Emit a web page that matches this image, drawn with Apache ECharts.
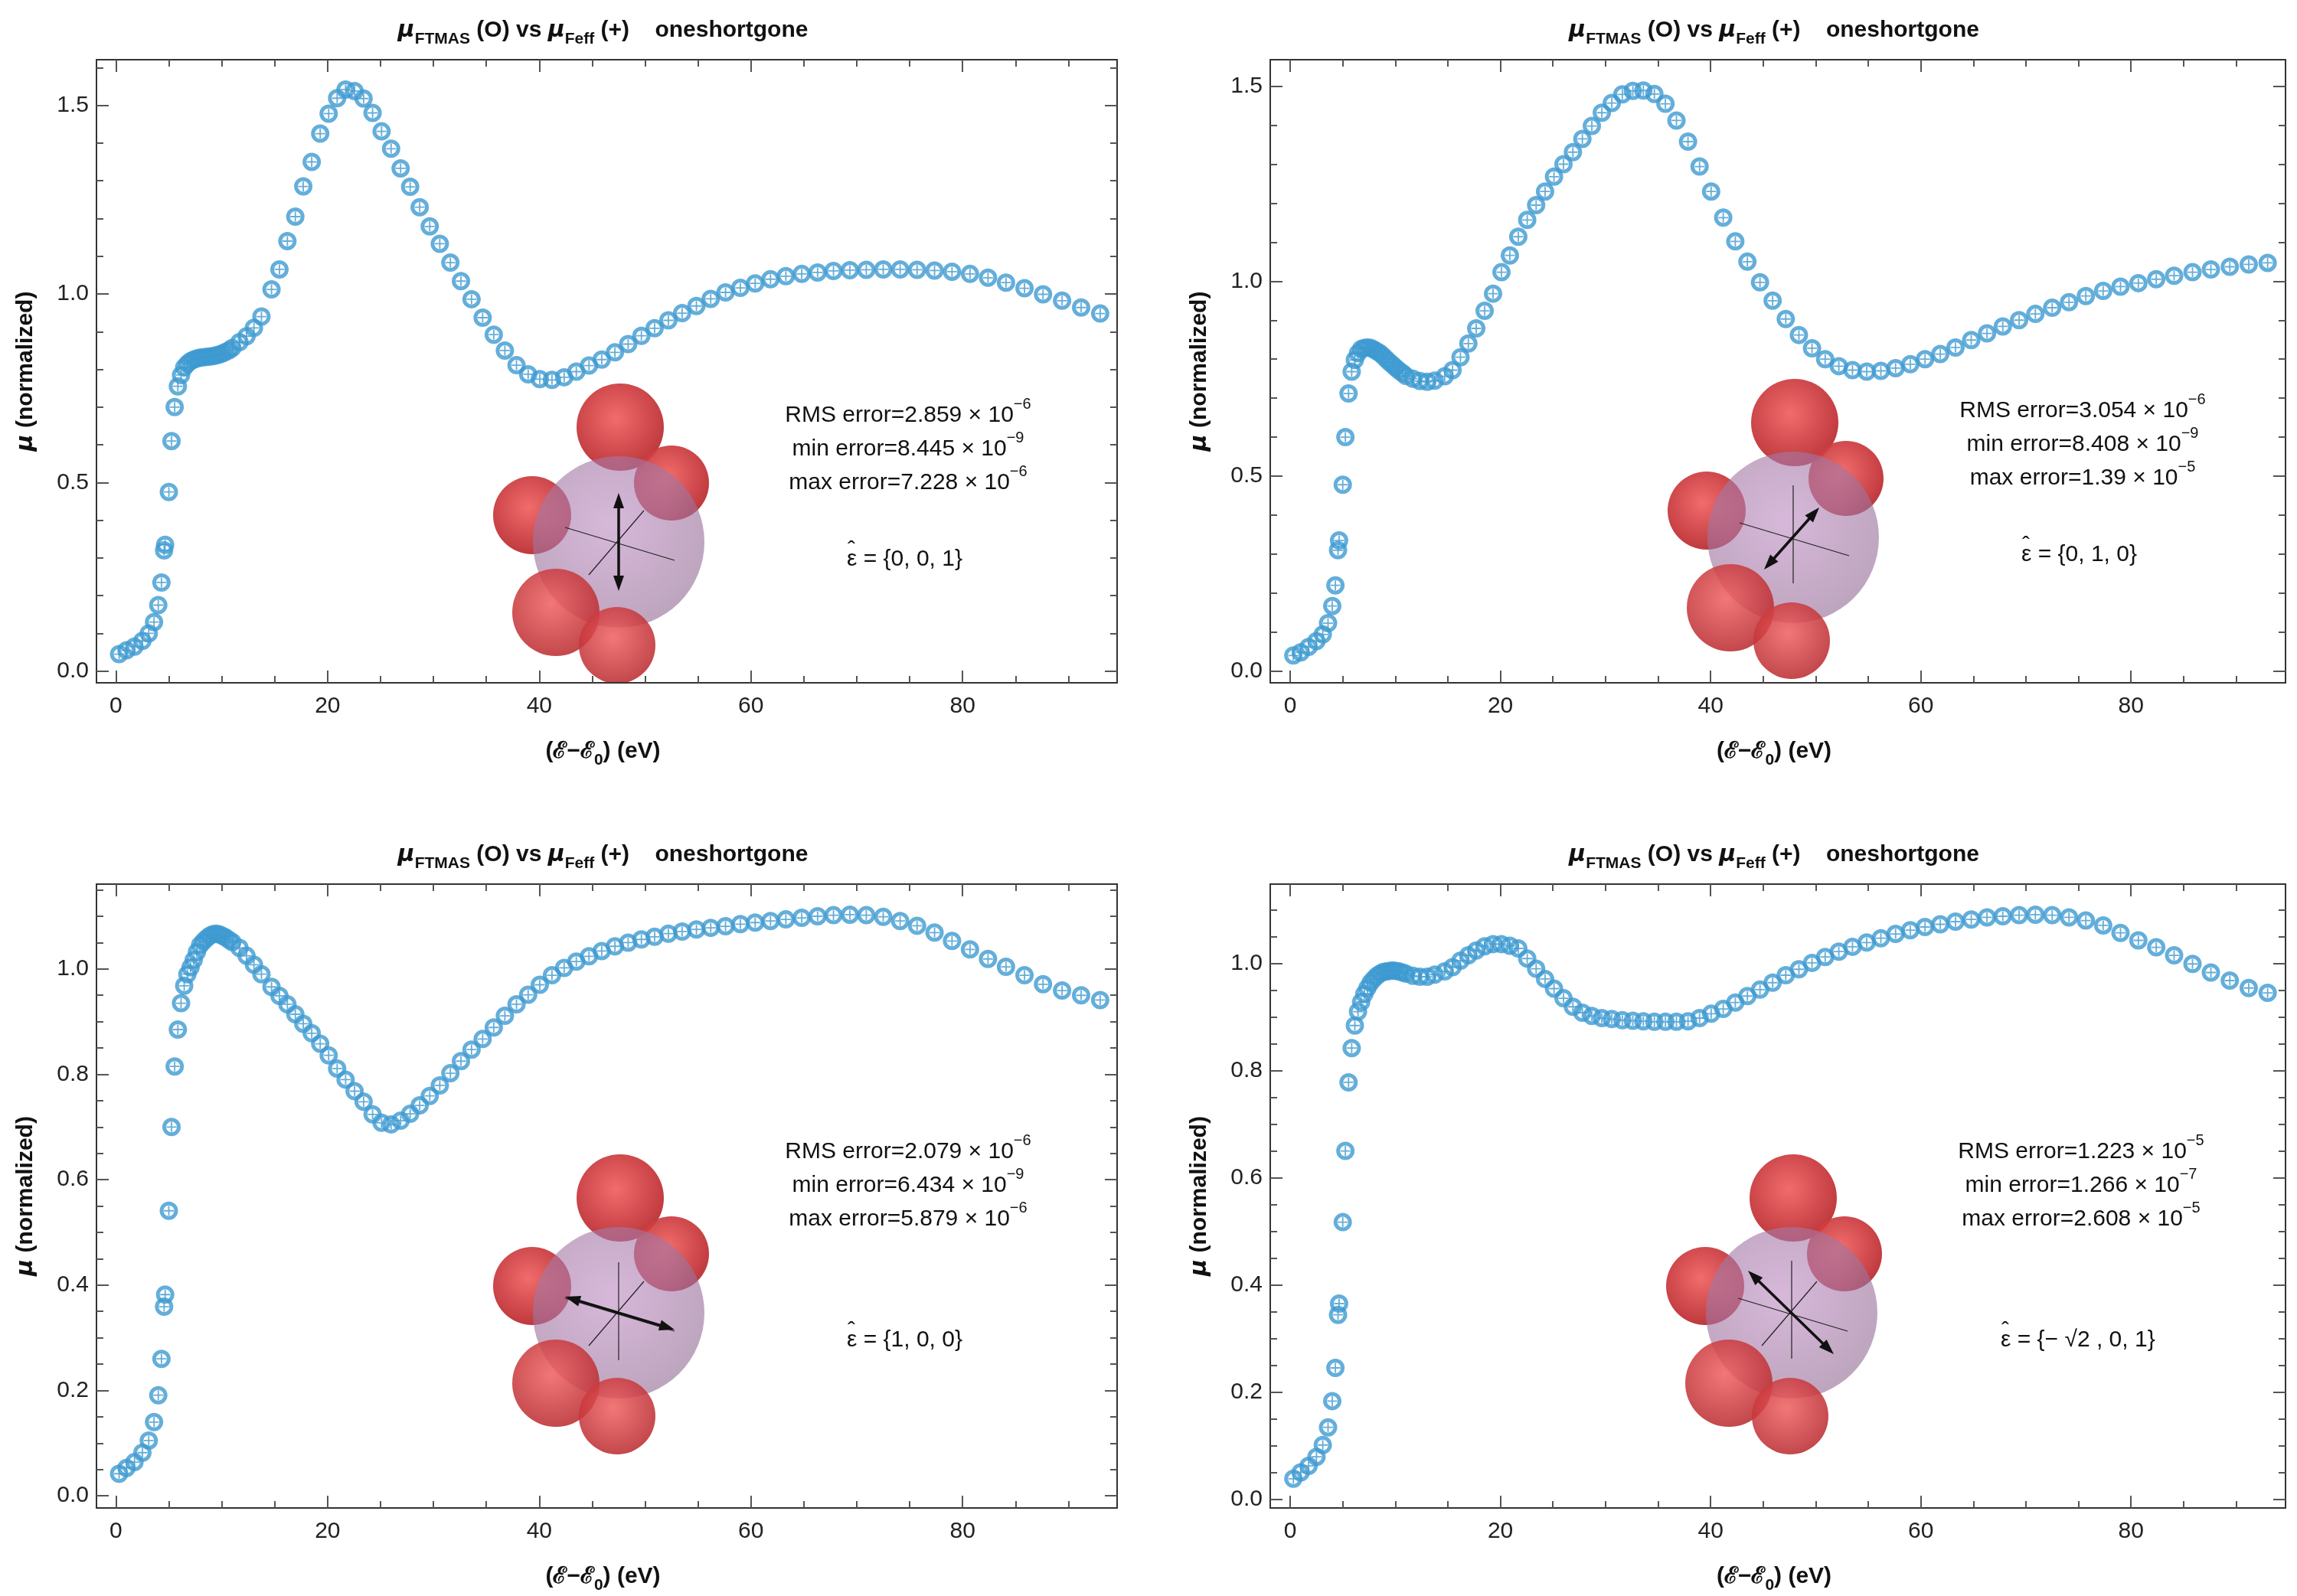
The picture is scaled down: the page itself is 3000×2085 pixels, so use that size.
<!DOCTYPE html>
<html>
<head>
<meta charset="utf-8">
<script src="https://cdn.jsdelivr.net/npm/echarts@6/dist/echarts.min.js"></script>
<style>
  html, body { margin: 0; padding: 0; background: #fff; }
  #chart { width: 3000px; height: 2085px; }
</style>
</head>
<body>
<div id="chart"></div>
<script>
// shared energy grid (eV above edge)
var energy = [0.3, 1.0, 1.75, 2.5, 3.1, 3.6, 4.0, 4.3, 4.55, 4.65, 5.0, 5.25, 5.55, 5.85, 6.15, 6.45, 6.75, 7.05, 7.35, 7.65,
  7.95, 8.25, 8.55, 8.85, 9.15, 9.45, 9.75, 10.05, 10.35, 10.7, 11.0, 11.67, 12.34, 13.04, 13.75,
  14.7, 15.45, 16.2, 16.95, 17.7, 18.5, 19.3, 20.1, 20.9, 21.7, 22.55, 23.4, 24.25, 25.1, 26.0, 26.9, 27.8, 28.7, 29.65, 30.6,
  31.6, 32.6, 33.6, 34.65, 35.7, 36.75, 37.85, 38.95, 40.05, 41.2, 42.35, 43.5, 44.7, 45.9, 47.15, 48.4, 49.65, 50.9, 52.2, 53.5,
  54.85, 56.2, 57.6, 59.0, 60.4, 61.85, 63.3, 64.8, 66.3, 67.8, 69.35, 70.9, 72.5, 74.1, 75.7, 77.35, 79.0, 80.7, 82.4, 84.1,
  85.85, 87.6, 89.4, 91.2, 93.0]

// eps = {0,0,1}
var muZ = [0.045, 0.055, 0.065, 0.08, 0.10, 0.13, 0.175, 0.235, 0.32, 0.335, 0.475, 0.61, 0.70, 0.755, 0.785, 0.805, 0.815, 0.822, 0.826, 0.829,
  0.831, 0.832, 0.833, 0.834, 0.835, 0.837, 0.839, 0.842, 0.846, 0.851, 0.857, 0.872, 0.888, 0.91, 0.94,
  1.012, 1.065, 1.14, 1.205, 1.285, 1.35, 1.425, 1.478, 1.519, 1.542, 1.538, 1.518, 1.48, 1.431, 1.385, 1.333, 1.284, 1.23, 1.179, 1.133,
  1.083, 1.034, 0.986, 0.937, 0.892, 0.85, 0.811, 0.787, 0.774, 0.772, 0.779, 0.794, 0.81, 0.826, 0.845, 0.867, 0.889, 0.909, 0.93, 0.949,
  0.968, 0.987, 1.004, 1.016, 1.028, 1.039, 1.047, 1.053, 1.057, 1.061, 1.063, 1.064, 1.065, 1.065, 1.064, 1.062, 1.059, 1.053, 1.043, 1.03,
  1.015, 0.999, 0.982, 0.964, 0.948]

// eps = {0,1,0}
var muY = [0.04, 0.048, 0.062, 0.077, 0.094, 0.123, 0.167, 0.22, 0.31, 0.335, 0.478, 0.6, 0.712, 0.768, 0.798, 0.815, 0.826, 0.829, 0.83, 0.829,
  0.825, 0.82, 0.815, 0.808, 0.80, 0.792, 0.785, 0.778, 0.771, 0.764, 0.757, 0.75, 0.744, 0.742, 0.745,
  0.756, 0.772, 0.805, 0.84, 0.879, 0.924, 0.968, 1.023, 1.066, 1.114, 1.157, 1.195, 1.23, 1.268, 1.3, 1.331, 1.365, 1.398, 1.432, 1.457,
  1.479, 1.488, 1.489, 1.48, 1.455, 1.412, 1.358, 1.294, 1.23, 1.163, 1.102, 1.05, 0.997, 0.95, 0.903, 0.862, 0.828, 0.80, 0.782, 0.772,
  0.768, 0.77, 0.777, 0.787, 0.80, 0.813, 0.83, 0.849, 0.866, 0.884, 0.9, 0.916, 0.932, 0.946, 0.962, 0.975, 0.986, 0.995, 1.005, 1.014,
  1.023, 1.03, 1.037, 1.043, 1.047]

// eps = {1,0,0}
var muX = [0.042, 0.053, 0.064, 0.082, 0.105, 0.14, 0.191, 0.26, 0.359, 0.382, 0.541, 0.70, 0.815, 0.885, 0.935, 0.968, 0.99, 1.003, 1.017, 1.032,
  1.045, 1.052, 1.058, 1.063, 1.066, 1.067, 1.066, 1.063, 1.06, 1.055, 1.051, 1.04, 1.025, 1.008, 0.99,
  0.966, 0.949, 0.933, 0.914, 0.896, 0.878, 0.858, 0.836, 0.811, 0.79, 0.768, 0.748, 0.724, 0.708, 0.705, 0.712, 0.725, 0.741, 0.759, 0.779,
  0.802, 0.825, 0.847, 0.867, 0.889, 0.911, 0.933, 0.951, 0.97, 0.988, 1.002, 1.014, 1.024, 1.034, 1.043, 1.05, 1.056, 1.061, 1.067, 1.071,
  1.075, 1.078, 1.081, 1.085, 1.088, 1.091, 1.094, 1.097, 1.1, 1.102, 1.103, 1.102, 1.099, 1.091, 1.082, 1.069, 1.053, 1.037, 1.019, 1.004,
  0.988, 0.971, 0.959, 0.95, 0.941]

// eps = {-sqrt2,0,1}
var muXZ = [0.038, 0.05, 0.062, 0.079, 0.101, 0.134, 0.183, 0.245, 0.344, 0.365, 0.517, 0.65, 0.778, 0.842, 0.884, 0.91, 0.928, 0.943, 0.954, 0.964,
  0.971, 0.977, 0.981, 0.984, 0.985, 0.986, 0.987, 0.986, 0.985, 0.983, 0.981, 0.977, 0.975, 0.975, 0.979,
  0.985, 0.993, 1.005, 1.015, 1.024, 1.032, 1.036, 1.036, 1.033, 1.028, 1.009, 0.99, 0.971, 0.953, 0.935, 0.919, 0.908, 0.902, 0.898, 0.896,
  0.894, 0.893, 0.892, 0.891, 0.891, 0.891, 0.892, 0.898, 0.906, 0.915, 0.927, 0.939, 0.951, 0.964, 0.978, 0.989, 1.001, 1.012, 1.022, 1.031,
  1.039, 1.047, 1.055, 1.062, 1.068, 1.073, 1.078, 1.082, 1.086, 1.088, 1.09, 1.091, 1.09, 1.086, 1.08, 1.071, 1.057, 1.043, 1.03, 1.015,
  0.999, 0.983, 0.968, 0.954, 0.945]

var xMajor = [0, 20, 40, 60, 80]
var yMajorTop = [0, 0.5, 1.0, 1.5]
var yMajorBottom = [0, 0.2, 0.4, 0.6, 0.8, 1.0]

var errTexts = [
  ['2.859', '−6', '8.445', '−9', '7.228', '−6'],
  ['3.054', '−6', '8.408', '−9', '1.39', '−5'],
  ['2.079', '−6', '6.434', '−9', '5.879', '−6'],
  ['1.223', '−5', '1.266', '−7', '2.608', '−5']
]
var epsTexts = ['{0, 0, 1}', '{0, 1, 0}', '{1, 0, 0}', '{− √2 , 0, 1}']

var BLUE = '#3d9ad1'
var NUM_FONT = '"Liberation Sans Narrow", "Liberation Sans", sans-serif'

var panels = [
  { data: muZ, grid: { left: 126, top: 78, width: 1333, height: 814 }, x: [-1.84, 94.6], y: [-0.031, 1.621], major: yMajorTop, minorStep: 0.1, off: [0, 0], arrow: [[808, 644], [808, 772]] },
  { data: muY, grid: { left: 1659, top: 78, width: 1326, height: 814 }, x: [-1.9, 94.7], y: [-0.03, 1.568], major: yMajorTop, minorStep: 0.1, off: [1534, -6], arrow: [[2304, 744], [2376, 663]] },
  { data: muX, grid: { left: 126, top: 1155, width: 1333, height: 815 }, x: [-1.84, 94.6], y: [-0.023, 1.161], major: yMajorBottom, minorStep: 0.05, off: [0, 1007], arrow: [[738, 1694], [881, 1737]] },
  { data: muXZ, grid: { left: 1659, top: 1155, width: 1326, height: 815 }, x: [-1.9, 94.7], y: [-0.0165, 1.148], major: yMajorBottom, minorStep: 0.05, off: [1532, 1007], arrow: [[2395, 1769], [2283, 1660]] }
]

function minorList (lo, hi, step, majors) {
  var out = []
  for (var i = 1; i * step < hi; i++) {
    var v = Math.round(i * step * 1000) / 1000
    if (v > lo && majors.indexOf(v) < 0) out.push(v)
  }
  return out
}

var grids = [], xAxes = [], yAxes = [], series = [], graphics = []

panels.forEach(function (p, i) {
  grids.push(p.grid)
  var xMinor = minorList(p.x[0], p.x[1], 5, xMajor)
  var yMinor = minorList(p.y[0], p.y[1], p.minorStep, p.major)
  var base = { gridIndex: i, type: 'value', splitLine: { show: false } }
  ;['bottom', 'top'].forEach(function (pos) {
    ;[true, false].forEach(function (isMajor) {
      xAxes.push(Object.assign({}, base, {
        position: pos, min: p.x[0], max: p.x[1],
        axisLine: { show: isMajor, onZero: false, lineStyle: { color: '#333', width: 2 } },
        axisTick: { show: true, inside: true, length: isMajor ? 16 : 9, customValues: isMajor ? xMajor : xMinor, lineStyle: { color: '#555', width: 2 } },
        axisLabel: { show: isMajor && pos === 'bottom', customValues: xMajor, fontSize: 30, color: '#222', fontFamily: NUM_FONT, margin: 16 }
      }))
    })
  })
  ;['left', 'right'].forEach(function (pos) {
    ;[true, false].forEach(function (isMajor) {
      yAxes.push(Object.assign({}, base, {
        position: pos, min: p.y[0], max: p.y[1],
        axisLine: { show: isMajor, onZero: false, lineStyle: { color: '#333', width: 2 } },
        axisTick: { show: true, inside: true, length: isMajor ? 16 : 9, customValues: isMajor ? p.major : yMinor, lineStyle: { color: '#555', width: 2 } },
        axisLabel: { show: isMajor && pos === 'left', customValues: p.major, fontSize: 30, color: '#222', fontFamily: NUM_FONT, margin: 10,
          formatter: function (v) { return v.toFixed(1) } }
      }))
    })
  })
  var pts = energy.map(function (e, k) { return [e, p.data[k]] })
  series.push({
    type: 'scatter', xAxisIndex: i * 4, yAxisIndex: i * 4, data: pts,
    symbol: 'circle', symbolSize: 19, itemStyle: { color: 'rgba(255,255,255,0)', borderColor: BLUE, borderWidth: 5 }, z: 3
  })
  series.push({
    type: 'scatter', xAxisIndex: i * 4, yAxisIndex: i * 4, data: pts,
    symbol: 'path://M-1.4,-10 h2.8 v20 h-2.8 z M-10,-1.4 h20 v2.8 h-20 z', symbolSize: 13, itemStyle: { color: BLUE }, z: 4
  })

  var g = p.grid
  var cx = g.left + g.width / 2
  var rich = {
    m: { fontStyle: 'italic', fontWeight: 'bold', fontSize: 30, fontFamily: 'DejaVu Sans', lineHeight: 44, verticalAlign: 'middle' },
    s: { fontWeight: 'bold', fontSize: 21, fontFamily: 'Liberation Sans', lineHeight: 44, verticalAlign: 'bottom' },
    t: { fontWeight: 'bold', fontSize: 30, fontFamily: 'Liberation Sans', lineHeight: 44, verticalAlign: 'middle' }
  }
  // title
  graphics.push({ type: 'text', x: cx - 5, y: g.top - 38, style: {
    text: '{m|μ}{s|FTMAS}{t| (O) vs }{m|μ}{s|Feff}{t| (+)    oneshortgone}',
    rich: rich, align: 'center', verticalAlign: 'middle', fill: '#111' } })
  // x name
  graphics.push({ type: 'text', x: cx - 5, y: g.top + g.height + 90, style: {
    text: '{t|(ℰ−ℰ}{s|0}{t|) (eV)}', rich: rich, align: 'center', verticalAlign: 'middle', fill: '#111' } })
  // y name
  graphics.push({ type: 'text', x: g.left - 92, y: g.top + g.height / 2, rotation: Math.PI / 2, style: {
    text: '{m|μ}{t| (normalized)}', rich: rich, align: 'center', verticalAlign: 'middle', fill: '#111' } })

  // error annotation
  var et = errTexts[i]
  var tx = p.off[0] + 1186
  var tr = {
    a: { fontSize: 30, fontFamily: NUM_FONT, lineHeight: 40, verticalAlign: 'bottom', fill: '#111' },
    u: { fontSize: 20, fontFamily: NUM_FONT, lineHeight: 40, verticalAlign: 'top', fill: '#111' }
  }
  var lines = ['RMS error=' + et[0], 'min error=' + et[2], 'max error=' + et[4]]
  var sups = [et[1], et[3], et[5]]
  var ys = [538, 582, 626]
  lines.forEach(function (l, k) {
    graphics.push({ type: 'text', x: tx, y: ys[k] + p.off[1] + (i >= 2 ? -45 : 0), style: {
      text: '{a|' + l + ' × 10}{u|' + sups[k] + '}', rich: tr, align: 'center', verticalAlign: 'middle' } })
  })
  var ey = 731 + p.off[1] + (i >= 2 ? 13 : 0)
  var ex = tx - (i === 3 ? 105 : 80)
  graphics.push({ type: 'text', x: ex, y: ey, style: {
    text: 'ε = ' + epsTexts[i], font: '30px ' + NUM_FONT, fill: '#111', align: 'left', verticalAlign: 'middle' } })
  graphics.push({ type: 'text', x: ex + 1, y: ey - 12, style: {
    text: 'ˆ', font: '30px ' + NUM_FONT, fill: '#111', align: 'left', verticalAlign: 'middle' } })

  // molecule sketch
  var ox = p.off[0], oy = p.off[1]
  function ball (x, y, r, op) {
    return { type: 'circle', shape: { cx: x + ox, cy: y + oy, r: r }, style: {
      fill: { type: 'radial', x: 0.45, y: 0.4, r: 0.6, colorStops: [{ offset: 0, color: 'rgba(240,95,95,' + op + ')' }, { offset: 1, color: 'rgba(185,40,45,' + op + ')' }] } } }
  }
  graphics.push(ball(810, 558, 57, 0.92))
  graphics.push(ball(877, 631, 49, 0.92))
  graphics.push(ball(695, 673, 51, 0.92))
  graphics.push({ type: 'circle', shape: { cx: 808 + ox, cy: 708 + oy, r: 112 }, style: {
    fill: { type: 'radial', x: 0.45, y: 0.4, r: 0.6, colorStops: [{ offset: 0, color: 'rgba(190,140,195,0.62)' }, { offset: 1, color: 'rgba(150,110,150,0.62)' }] } } })
  graphics.push(ball(726, 800, 57, 0.85))
  graphics.push(ball(806, 843, 50, 0.85))
  var thin = { stroke: '#222', lineWidth: 1.2 }
  if (i === 0 || i === 2) {
    graphics.push({ type: 'line', shape: { x1: 738 + ox, y1: 689 + oy, x2: 881 + ox, y2: 732 + oy }, style: thin })
    graphics.push({ type: 'line', shape: { x1: 769 + ox, y1: 751 + oy, x2: 841 + ox, y2: 667 + oy }, style: thin })
    if (i === 2) graphics.push({ type: 'line', shape: { x1: 808, y1: 1649, x2: 808, y2: 1777 }, style: thin })
  } else {
    graphics.push({ type: 'line', shape: { x1: 738 + ox, y1: 689 + oy, x2: 881 + ox, y2: 732 + oy }, style: thin })
    graphics.push({ type: 'line', shape: { x1: 808 + ox, y1: 640 + oy, x2: 808 + ox, y2: 768 + oy }, style: thin })
    if (i === 3) graphics.push({ type: 'line', shape: { x1: 769 + ox, y1: 751 + oy, x2: 841 + ox, y2: 667 + oy }, style: thin })
  }
  // double-headed polarisation arrow
  var a = p.arrow[0], b = p.arrow[1]
  var dx = b[0] - a[0], dy = b[1] - a[1], len = Math.sqrt(dx * dx + dy * dy)
  var ux = dx / len, uy = dy / len, hl = 20, hw = 7
  graphics.push({ type: 'line', shape: { x1: a[0] + ux * 10, y1: a[1] + uy * 10, x2: b[0] - ux * 10, y2: b[1] - uy * 10 }, style: { stroke: '#111', lineWidth: 3.5 } })
  ;[[b, 1], [a, -1]].forEach(function (h) {
    var t = h[0], s = h[1]
    graphics.push({ type: 'polygon', shape: { points: [
      [t[0], t[1]],
      [t[0] - s * ux * hl - uy * hw, t[1] - s * uy * hl + ux * hw],
      [t[0] - s * ux * hl + uy * hw, t[1] - s * uy * hl - ux * hw]] }, style: { fill: '#111' } })
  })
})

var chart = echarts.init(document.getElementById('chart'))
chart.setOption({
  animation: false,
  backgroundColor: '#fff',
  grid: grids,
  xAxis: xAxes,
  yAxis: yAxes,
  series: series,
  graphic: graphics
})
</script>
</body>
</html>
